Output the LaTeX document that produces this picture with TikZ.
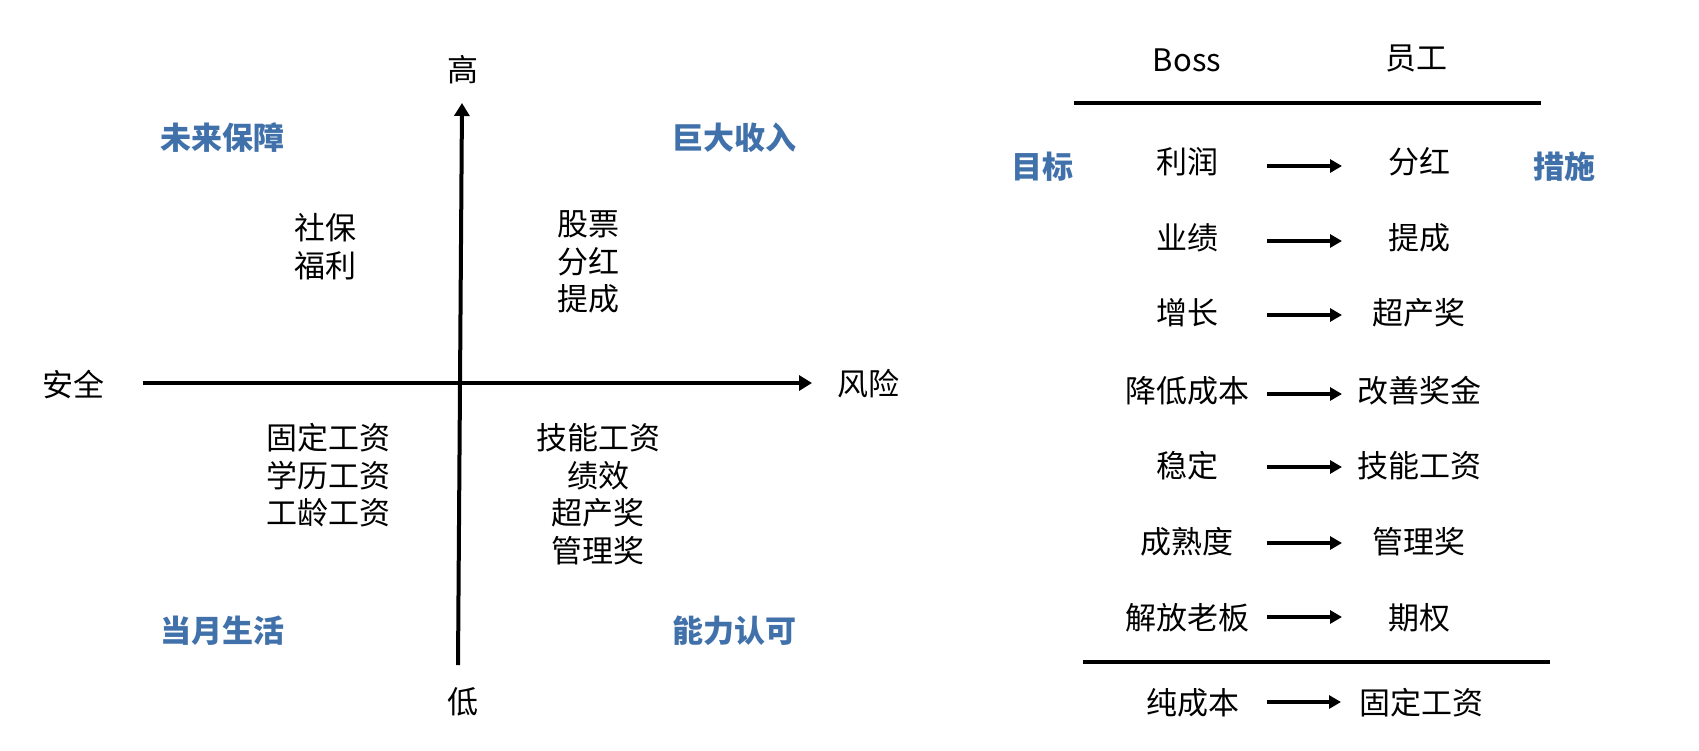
\documentclass[tikz,border=0pt]{standalone}
\usepackage{fontspec}
\setmainfont{Noto Sans CJK SC}
\usetikzlibrary{arrows.meta}
\definecolor{qblue}{RGB}{65,113,170}
\begin{document}
\begin{tikzpicture}[x=1pt,y=-1pt,
  txt/.style={font=\fontsize{31}{37.5}\selectfont, inner sep=0pt, align=center},
  lbl/.style={font=\fontsize{31}{37.5}\selectfont\bfseries, text=qblue, inner sep=0pt},
  axisline/.style={line width=4pt, -{Triangle[length=13pt,width=15pt]}},
  rulebar/.style={line width=4pt},
  link/.style={line width=4pt, -{Triangle[length=12pt,width=13pt]}}]
\useasboundingbox[fill=white] (0,0) rectangle (1699,750);

% ---------- left quadrant chart ----------
\node[txt] (high) at (463,70) {高};
\node[txt] (low) at (463,702) {低};
\node[txt] (safe) at (73,384) {安全};
\node[txt] (risk) at (868,384) {风险};

\coordinate (hstart) at (143,383);
\coordinate (hend) at (812,383);
\coordinate (vstart) at (458,665);
\coordinate (vend) at (462,103);
\draw[axisline] (hstart) -- (hend);
\draw[axisline] (vstart) -- (vend);

\node[lbl] (q1) at (222,138) {未来保障};
\node[lbl] (q2) at (734,138) {巨大收入};
\node[lbl] (q3) at (222,631) {当月生活};
\node[lbl] (q4) at (734,631) {能力认可};

\node[txt] (s1) at (325,246.5) {社保\\福利};
\node[txt] (s2) at (588,262) {股票\\分红\\提成};
\node[txt] (s3) at (328,475.5) {固定工资\\学历工资\\工龄工资};
\node[txt] (s4) at (598,494) {技能工资\\绩效\\超产奖\\管理奖};

% ---------- right table ----------
\node[txt] (boss) at (1187,60) {Boss};
\node[txt] (staff) at (1416,58) {员工};
\coordinate (r1a) at (1074,103);
\coordinate (r1b) at (1541,103);
\draw[rulebar] (r1a) -- (r1b);

\node[lbl] (goal) at (1042,167) {目标};
\node[lbl] (measure) at (1564,167) {措施};

\foreach \i/\l/\r/\y/\ay in {
  1/利润/分红/162/166,
  2/业绩/提成/238/241,
  3/增长/超产奖/313/315,
  4/降低成本/改善奖金/391/394,
  5/稳定/技能工资/466/467,
  6/成熟度/管理奖/542/543,
  7/解放老板/期权/618/617}{
  \node[txt] (L\i) at (1187,\y) {\l};
  \node[txt] (R\i) at (1419,\y) {\r};
  \coordinate (A\i) at (1267,\ay);
  \coordinate (B\i) at (1342,\ay);
  \draw[link] (A\i) -- (B\i);
}

\coordinate (r2a) at (1083,662);
\coordinate (r2b) at (1550,662);
\draw[rulebar] (r2a) -- (r2b);

\node[txt] (L8) at (1193,703) {纯成本};
\node[txt] (R8) at (1421,703) {固定工资};
\coordinate (A8) at (1267,702);
\coordinate (B8) at (1341,702);
\draw[link] (A8) -- (B8);
\end{tikzpicture}
\end{document}
